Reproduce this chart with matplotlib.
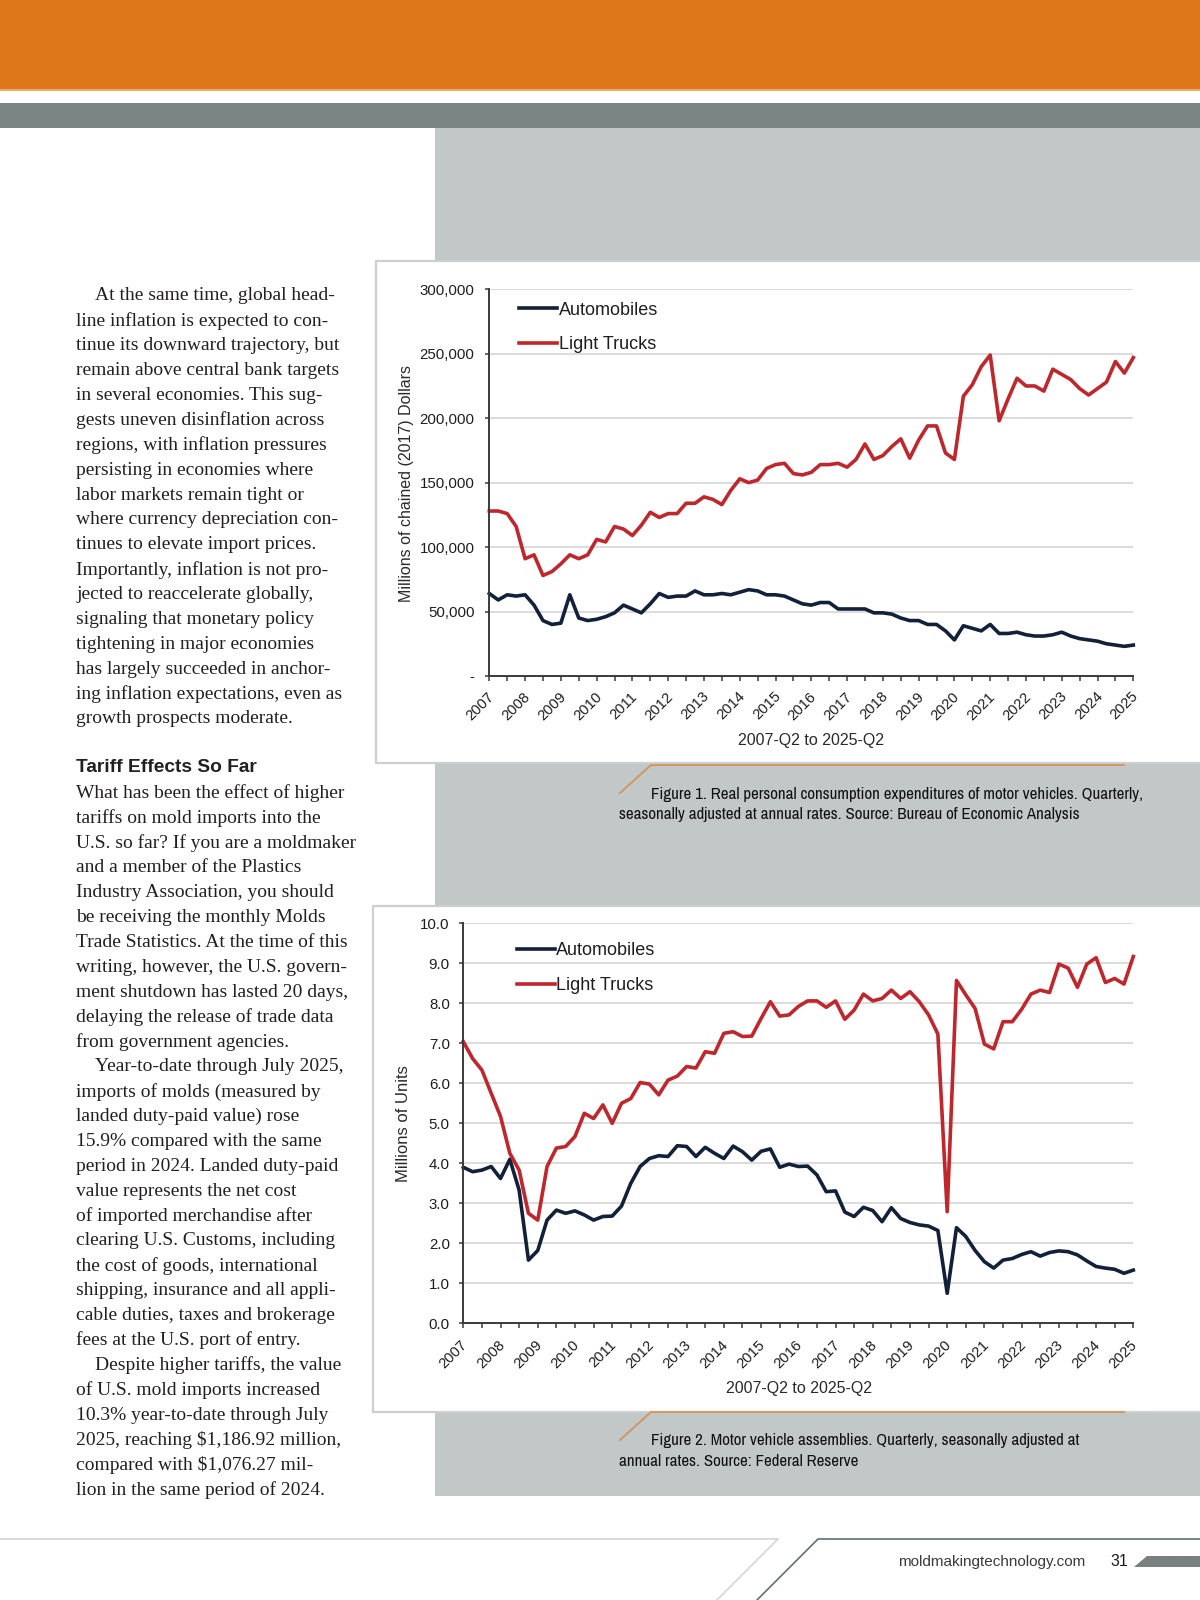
import matplotlib
matplotlib.use("Agg")
import matplotlib.pyplot as plt
from matplotlib.patches import Rectangle, Polygon
from matplotlib.transforms import ScaledTranslation
from matplotlib import font_manager as fm

# ---------------- data ----------------
years = [str(y) for y in range(2007, 2026)]
n_quarters = 73  # 2007-Q2 .. 2025-Q2

pce_autos = [64000, 59000, 63000, 62000, 63000, 55000, 43000, 40000, 41000, 63000,
             45000, 43000, 44000, 46000, 49000, 55000, 52000, 49000, 56000, 64000,
             61000, 62000, 62000, 66000, 63000, 63000, 64000, 63000, 65000, 67000,
             66000, 63000, 63000, 62000, 59000, 56000, 55000, 57000, 57000, 52000,
             52000, 52000, 52000, 49000, 49000, 48000, 45000, 43000, 43000, 40000,
             40000, 35000, 28000, 39000, 37000, 35000, 40000, 33000, 33000, 34000,
             32000, 31000, 31000, 32000, 34000, 31000, 29000, 28000, 27000, 25000,
             24000, 23000, 24000]
pce_trucks = [128000, 128000, 126000, 116000, 91000, 94000, 78000, 81000, 87000, 94000,
              91000, 94000, 106000, 104000, 116000, 114000, 109000, 117000, 127000, 123000,
              126000, 126000, 134000, 134000, 139000, 137000, 133000, 144000, 153000, 150000,
              152000, 161000, 164000, 165000, 157000, 156000, 158000, 164000, 164000, 165000,
              162000, 168000, 180000, 168000, 171000, 178000, 184000, 169000, 183000, 194000,
              194000, 173000, 168000, 217000, 226000, 240000, 249000, 198000, 215000, 231000,
              225000, 225000, 221000, 238000, 234000, 230000, 223000, 218000, 223000, 228000,
              244000, 235000, 247000]
pce_yticks = [0, 50000, 100000, 150000, 200000, 250000, 300000]
pce_ylabels = ["-", "50,000", "100,000", "150,000", "200,000", "250,000", "300,000"]

asm_autos = [3.90, 3.79, 3.83, 3.92, 3.62, 4.10, 3.33, 1.58, 1.82, 2.58,
             2.83, 2.75, 2.81, 2.71, 2.58, 2.67, 2.68, 2.93, 3.50, 3.92,
             4.12, 4.19, 4.17, 4.44, 4.42, 4.17, 4.40, 4.25, 4.12, 4.43,
             4.29, 4.08, 4.30, 4.36, 3.90, 3.98, 3.92, 3.93, 3.71, 3.29,
             3.31, 2.78, 2.67, 2.90, 2.82, 2.54, 2.89, 2.62, 2.52, 2.46,
             2.43, 2.32, 0.75, 2.39, 2.17, 1.82, 1.54, 1.38, 1.58, 1.62,
             1.72, 1.79, 1.68, 1.77, 1.81, 1.79, 1.71, 1.56, 1.42, 1.38,
             1.35, 1.25, 1.33]
asm_trucks = [7.04, 6.62, 6.33, 5.75, 5.17, 4.25, 3.83, 2.75, 2.58, 3.92,
              4.38, 4.42, 4.67, 5.25, 5.12, 5.46, 5.00, 5.50, 5.62, 6.02,
              5.98, 5.71, 6.08, 6.18, 6.42, 6.38, 6.79, 6.75, 7.25, 7.29,
              7.17, 7.18, 7.62, 8.04, 7.68, 7.71, 7.92, 8.06, 8.06, 7.90,
              8.06, 7.60, 7.83, 8.23, 8.06, 8.12, 8.33, 8.12, 8.29, 8.04,
              7.71, 7.23, 2.79, 8.57, 8.21, 7.87, 6.98, 6.86, 7.54, 7.54,
              7.85, 8.23, 8.33, 8.27, 8.98, 8.88, 8.40, 8.98, 9.14, 8.52,
              8.62, 8.48, 9.17]
asm_yticks = [0, 1, 2, 3, 4, 5, 6, 7, 8, 9, 10]
asm_ylabels = ["0.0", "1.0", "2.0", "3.0", "4.0", "5.0", "6.0", "7.0", "8.0", "9.0", "10.0"]

para1 = [
    "At the same time, global head-",
    "line inflation is expected to con-",
    "tinue its downward trajectory, but",
    "remain above central bank targets",
    "in several economies. This sug-",
    "gests uneven disinflation across",
    "regions, with inflation pressures",
    "persisting in economies where",
    "labor markets remain tight or",
    "where currency depreciation con-",
    "tinues to elevate import prices.",
    "Importantly, inflation is not pro-",
    "jected to reaccelerate globally,",
    "signaling that monetary policy",
    "tightening in major economies",
    "has largely succeeded in anchor-",
    "ing inflation expectations, even as",
    "growth prospects moderate.",
]
heading = "Tariff Effects So Far"
para2 = [
    ("What has been the effect of higher", False),
    ("tariffs on mold imports into the", False),
    ("U.S. so far? If you are a moldmaker", False),
    ("and a member of the Plastics", False),
    ("Industry Association, you should", False),
    ("be receiving the monthly Molds", False),
    ("Trade Statistics. At the time of this", False),
    ("writing, however, the U.S. govern-", False),
    ("ment shutdown has lasted 20 days,", False),
    ("delaying the release of trade data", False),
    ("from government agencies.", False),
    ("Year-to-date through July 2025,", True),
    ("imports of molds (measured by", False),
    ("landed duty-paid value) rose", False),
    ("15.9% compared with the same", False),
    ("period in 2024. Landed duty-paid", False),
    ("value represents the net cost", False),
    ("of imported merchandise after", False),
    ("clearing U.S. Customs, including", False),
    ("the cost of goods, international", False),
    ("shipping, insurance and all appli-", False),
    ("cable duties, taxes and brokerage", False),
    ("fees at the U.S. port of entry.", False),
    ("Despite higher tariffs, the value", True),
    ("of U.S. mold imports increased", False),
    ("10.3% year-to-date through July", False),
    ("2025, reaching $1,186.92 million,", False),
    ("compared with $1,076.27 mil-", False),
    ("lion in the same period of 2024.", False),
]
cap1 = ["Figure 1. Real personal consumption expenditures of motor vehicles. Quarterly,",
        "seasonally adjusted at annual rates. Source: Bureau of Economic Analysis"]
cap2 = ["Figure 2. Motor vehicle assemblies. Quarterly, seasonally adjusted at",
        "annual rates. Source: Federal Reserve"]

# ---------------- styling ----------------
NAVY = "#13203A"
RED = "#BF272D"
ORANGE = "#DE761A"
PANEL = "#C1C8C7"
DARKBAR = "#7B8584"
TXT = "#231F20"
TICK = "#1E1E1E"

SANS = "Liberation Sans"
SERIF = "Liberation Serif"

# condensed face for captions, if one is installed
CAPF, CAPSTRETCH, CAPS = SANS, "normal", 10.2
_cands = []
for f in fm.fontManager.ttflist:
    nm = f.name
    st = f.stretch if isinstance(f.stretch, str) else str(f.stretch)
    if ("Narrow" in nm or "Condensed" in nm) and f.style == "normal":
        _cands.append((0, nm, "normal"))
    elif st in ("condensed", "semi-condensed", "extra-condensed") and f.style == "normal":
        _cands.append((1, nm, st))
if _cands:
    _cands.sort()
    _, CAPF, CAPSTRETCH = _cands[0]
    CAPS = 12.2 if ("Narrow" in CAPF or "Condensed" in CAPF) else 11.4

W, H = 1200, 1600
fig = plt.figure(figsize=(12, 16), dpi=100)
bg = fig.add_axes([0, 0, 1, 1], zorder=0)
bg.set_xlim(0, W)
bg.set_ylim(H, 0)
bg.axis("off")


def rect(x0, y0, x1, y1, **kw):
    bg.add_patch(Rectangle((x0, y0), x1 - x0, y1 - y0, **kw))


# header bars
rect(0, 0, W, 89, color=ORANGE, lw=0)
rect(0, 89, W, 91, color="#EFA96A", lw=0)
rect(0, 103, W, 127.5, color=DARKBAR, lw=0)
# grey panel
rect(435, 127.5, W, 1496, color=PANEL, lw=0)
# chart boxes
rect(376, 261, W + 20, 763, facecolor="white", edgecolor="#CCCFCE", lw=1.6)
rect(373, 906, W + 20, 1412, facecolor="white", edgecolor="#CCCFCE", lw=1.6)

# caption accent lines
for ytop in (765, 1412):
    bg.plot([620, 651, 1124], [ytop + 28, ytop, ytop], color="#D4935A", lw=1.3,
            solid_joinstyle="miter")

for (l1, l2), y1 in ((cap1, 794), (cap2, 1441)):
    bg.text(651, y1, l1, family=CAPF, fontstretch=CAPSTRETCH, fontsize=CAPS,
            color="#111111", va="center", ha="left")
    bg.text(619, y1 + 21, l2, family=CAPF, fontstretch=CAPSTRETCH, fontsize=CAPS,
            color="#111111", va="center", ha="left")

# body text
x_left, x_ind = 76.5, 95
pitch = 24.88
for i, line in enumerate(para1):
    bg.text(x_ind if i == 0 else x_left, 296 + i * pitch, line, family=SERIF,
            fontsize=14, color=TXT, va="center", ha="left")
bg.text(x_left, 767, heading, family=SANS, fontweight="bold", fontsize=13.8,
        color=TXT, va="center", ha="left")
for i, (line, ind) in enumerate(para2):
    bg.text(x_ind if ind else x_left, 793 + i * pitch, line, family=SERIF,
            fontsize=14, color=TXT, va="center", ha="left")

# footer
bg.plot([0, 778, 717], [1539, 1539, 1600], color="#D3D5D5", lw=1.2)
bg.plot([W, 818, 757], [1539, 1539, 1600], color="#5E6E76", lw=1.2)
bg.text(1085, 1562, "moldmakingtechnology.com", family=SANS, fontsize=11,
        color="#3A3A3A", va="center", ha="right")
bg.text(1110, 1562, "31", family=SANS, fontsize=11.5, color="#1A1A1A",
        va="center", ha="left")
bg.add_patch(Polygon([(1147, 1556), (W, 1556), (W, 1567), (1134, 1567)],
                     closed=True, color="#7A7F80", lw=0))


# ---------------- charts ----------------
def style_chart(ax, yticks, ylabels, ylim, ypad, xlab_dx, xlab_pad):
    q = list(range(n_quarters))
    ax.set_facecolor("none")
    ax.set_xlim(0, n_quarters - 1)
    ax.set_ylim(*ylim)
    for s in ("top", "right"):
        ax.spines[s].set_visible(False)
    for s in ("left", "bottom"):
        ax.spines[s].set_color("#3A3A3A")
        ax.spines[s].set_linewidth(1.4)
    ax.set_yticks(yticks)
    ax.set_yticklabels(ylabels)
    ticks = q[::2]
    ax.set_xticks(ticks)
    ax.set_xticklabels([years[t // 4] if t % 4 == 0 else "" for t in ticks],
                       rotation=45, ha="right", va="top", rotation_mode="anchor")
    ax.tick_params(axis="y", length=3.2, width=1.1, color="#3A3A3A", pad=ypad,
                   labelsize=10.8, labelcolor=TICK)
    ax.tick_params(axis="x", length=3.6, width=1.1, color="#3A3A3A", pad=xlab_pad,
                   labelsize=10.6, labelcolor=TICK)
    for lab in ax.get_xticklabels() + ax.get_yticklabels():
        lab.set_family(SANS)
    for lab in ax.get_xticklabels():
        lab.set_transform(lab.get_transform() +
                          ScaledTranslation(xlab_dx / 100, 0, fig.dpi_scale_trans))
    ax.yaxis.grid(True, color="#D9D9D9", lw=1.3)
    ax.set_axisbelow(True)
    return q


# Figure 1
ax1 = fig.add_axes([489.3 / W, 1 - 676 / H, 644 / W, 386.7 / H], zorder=2)
q = style_chart(ax1, pce_yticks, pce_ylabels, (0, 300000), 7.5, -2, 6.0)
ax1.plot(q, pce_autos, color=NAVY, lw=2.6, label="Automobiles", clip_on=False,
         solid_joinstyle="round")
ax1.plot(q, pce_trucks, color=RED, lw=2.6, label="Light Trucks", clip_on=False,
         solid_joinstyle="round")
leg = ax1.legend(loc="upper left", bbox_to_anchor=(0.046, 0.968), frameon=False,
                 borderpad=0, borderaxespad=0, handlelength=2.1, handletextpad=0.12,
                 labelspacing=0.98, prop={"family": SANS, "size": 13})
for t in leg.get_texts():
    t.set_color("#1E1E1E")
fig.text(407 / W, 1 - 483 / H, "Millions of chained (2017) Dollars", rotation=90,
         family=SANS, fontsize=11.5, color="#2A2A2A", ha="center", va="center")
fig.text(811 / W, 1 - 741 / H, "2007-Q2 to 2025-Q2", family=SANS, fontsize=11.5,
         color="#2A2A2A", ha="center", va="center")

# Figure 2
ax2 = fig.add_axes([463.3 / W, 1 - 1323.3 / H, 670 / W, 400 / H], zorder=2)
q = style_chart(ax2, asm_yticks, asm_ylabels, (0, 10), 6.5, -3, 7.0)
ax2.plot(q, asm_autos, color=NAVY, lw=2.6, label="Automobiles", clip_on=False,
         solid_joinstyle="round")
ax2.plot(q, asm_trucks, color=RED, lw=2.6, label="Light Trucks", clip_on=False,
         solid_joinstyle="round")
leg = ax2.legend(loc="upper left", bbox_to_anchor=(0.080, 0.952), frameon=False,
                 borderpad=0, borderaxespad=0, handlelength=2.1, handletextpad=0.05,
                 labelspacing=0.98, prop={"family": SANS, "size": 13})
for t in leg.get_texts():
    t.set_color("#1E1E1E")
fig.text(403 / W, 1 - 1124 / H, "Millions of Units", rotation=90,
         family=SANS, fontsize=12, color="#2A2A2A", ha="center", va="center")
fig.text(799 / W, 1 - 1389 / H, "2007-Q2 to 2025-Q2", family=SANS, fontsize=11.5,
         color="#2A2A2A", ha="center", va="center")

fig.savefig("out.png", dpi=100)
